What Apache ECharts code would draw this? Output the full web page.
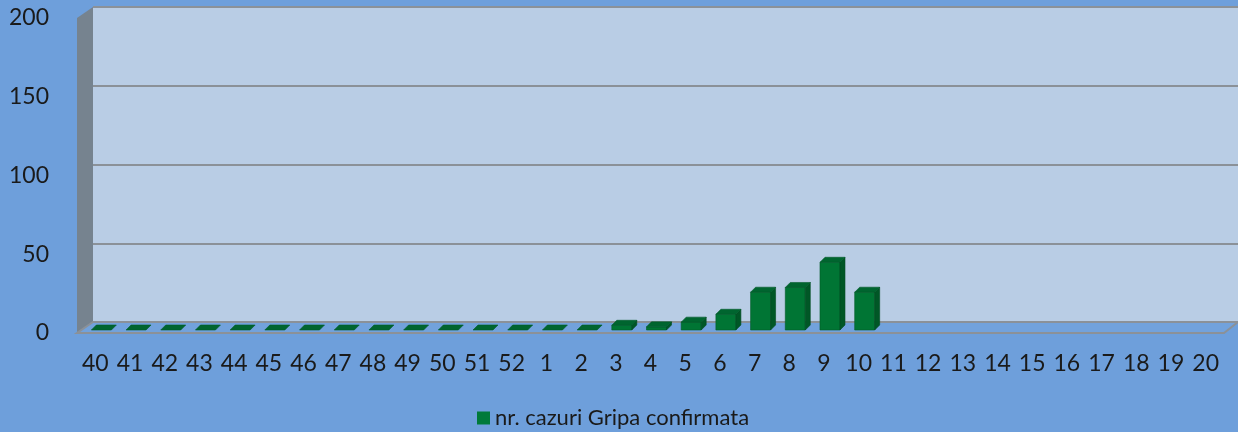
<!DOCTYPE html>
<html><head><meta charset="utf-8">
<script src="https://cdn.jsdelivr.net/npm/echarts@6/dist/echarts.min.js"></script>
<style>html,body{margin:0;padding:0;background:#6e9fdb;}#c{width:1238px;height:432px;}</style>
</head><body><div id="c"></div>
<script>
const categories = ['40','41','42','43','44','45','46','47','48','49','50','51','52','1','2','3','4','5','6','7','8','9','10','11','12','13','14','15','16','17','18','19','20'];
const values = [0,0,0,0,0,0,0,0,0,0,0,0,0,0,0,3,2,5,10,24,27,43,24,null,null,null,null,null,null,null,null,null,null];
const yTicks = [0,50,100,150,200];
const seriesName = 'nr. cazuri Gripa confirmata';

const FONT = 'Lato';
const chart = echarts.init(document.getElementById('c'));
const barData = values.map((v,i)=> v===null ? null : [i, v]).filter(d=>d!==null);

chart.setOption({
  backgroundColor: '#6e9fdb',
  animation: false,
  textStyle: {fontFamily: FONT},
  graphic: [
    {type:'polygon', z:-1, shape:{points:[[77,18],[93,7],[93,322],[77,333]]}, style:{fill:'#76838f'}},
    {type:'polygon', z:-1, shape:{points:[[93,322],[1238,322],[1224,333],[77,333]]}, style:{fill:'#72a2dc', stroke:'#8b9198', lineWidth:2}}
  ],
  grid: [
    {left:93, right:0, top:7, bottom:110, show:true, backgroundColor:'#b9cde5', borderWidth:0},
    {left:78, right:15, top:18, bottom:99}
  ],
  xAxis: [
    {gridIndex:0, type:'category', data:categories, show:false},
    {gridIndex:1, type:'category', data:categories, axisLine:{show:false}, axisTick:{show:false},
     axisLabel:{interval:0, fontSize:23, color:'#1a1a1a', margin:19, fontFamily:FONT}}
  ],
  yAxis: [
    {gridIndex:0, type:'value', min:0, max:200, interval:50, axisLabel:{show:false}, axisLine:{show:false}, axisTick:{show:false},
     splitLine:{show:true, lineStyle:{color:'#8b9198', width:2}}},
    {gridIndex:1, type:'value', min:0, max:200, interval:50, axisLine:{show:false}, axisTick:{show:false}, splitLine:{show:false},
     axisLabel:{fontSize:23, color:'#1a1a1a', margin:29, align:'right', verticalAlign:'middle', fontFamily:FONT,
       formatter:(v)=> yTicks.includes(v) ? String(v) : ''}}
  ],
  legend: {
    data:[seriesName], left:472, top:402, icon:'rect', itemWidth:13, itemHeight:13, itemGap:6,
    textStyle:{fontSize:22, color:'#1a1a1a', fontFamily:FONT}
  },
  series: [{
    type:'custom', name:seriesName, xAxisIndex:1, yAxisIndex:1,
    itemStyle:{color:'#007a3a'},
    data: barData,
    renderItem: function(params, api){
      const v = api.value(1);
      if (isNaN(v)) return null;
      const base = api.coord([api.value(0), 0]);
      const top = api.coord([api.value(0), v]);
      const cx = base[0] + 6, by = base[1] - 3, ty = top[1] - 3;
      const hw = 10, dx = 5, dy = -5;
      const children = [];
      if (by - ty > 0.5) {
        children.push({type:'rect', shape:{x:cx-hw, y:ty, width:2*hw, height:by-ty},
          style:{fill:'#007534', stroke:'#005a28', lineWidth:0.6}});
        children.push({type:'polygon', shape:{points:[[cx+hw,ty],[cx+hw+dx,ty+dy],[cx+hw+dx,by+dy],[cx+hw,by]]},
          style:{fill:'#005726', stroke:'#004a20', lineWidth:0.6}});
      }
      children.push({type:'polygon', shape:{points:[[cx-hw,ty],[cx-hw+dx,ty+dy],[cx+hw+dx,ty+dy],[cx+hw,ty]]},
        style:{fill:'#00652f', stroke:'#005a28', lineWidth:0.6}});
      return {type:'group', children};
    }
  }]
});
</script></body></html>
